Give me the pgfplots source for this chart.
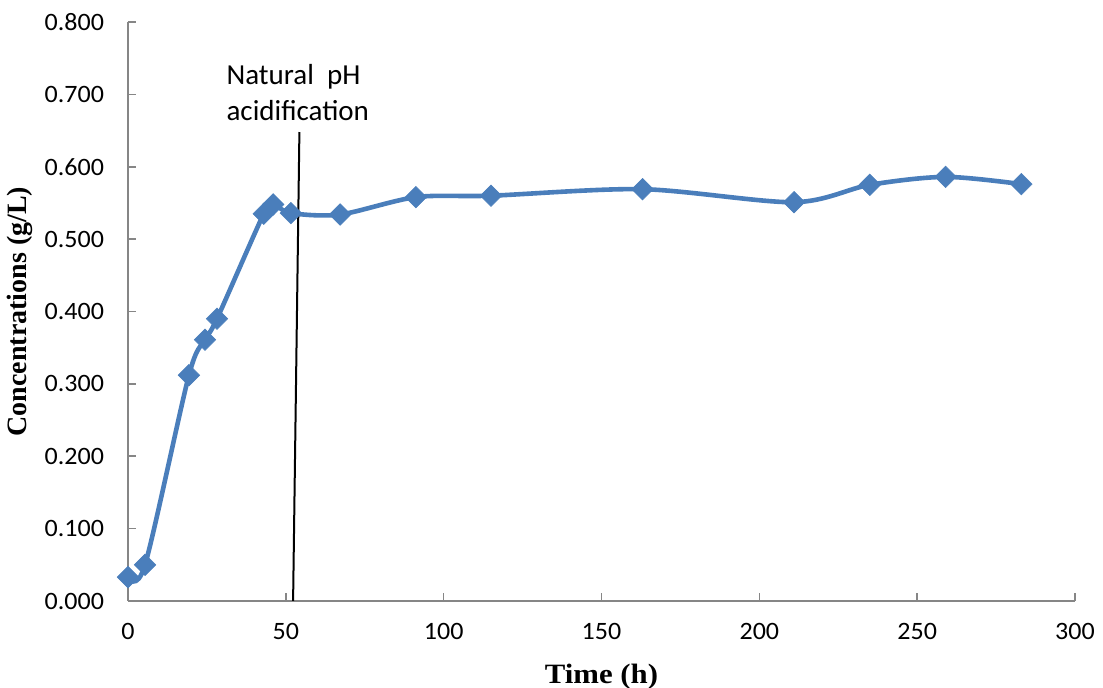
\documentclass[border=0pt]{standalone}
\usepackage{pgfplots}
\pgfplotsset{compat=1.18}
\usepackage{fontspec}
\setmainfont{Carlito}
\newfontfamily\tickfont{Carlito}[FakeStretch=1.04]
\newfontfamily\labfont{Liberation Serif}[FakeStretch=1.1]
\newfontfamily\ylabfont{Liberation Serif}
\definecolor{xlblue}{RGB}{74,126,187}
\definecolor{axgray}{RGB}{134,134,134}
\begin{document}
\begin{tikzpicture}
\begin{axis}[
  name=ax,
  width=473.5pt, height=289.5pt, scale only axis,
  xmin=0, xmax=300, ymin=0, ymax=0.8,
  axis x line*=bottom, axis y line*=left,
  axis line style={axgray, line width=0.8pt},
  xtick={0,50,100,150,200,250,300},
  ytick={0,0.1,0.2,0.3,0.4,0.5,0.6,0.7,0.8},
  tick style={axgray, line width=0.8pt},
  tick align=inside, major tick length=4pt,
  /pgf/number format/assume math mode=true,
  ticklabel style={font=\tickfont\fontsize{12.5}{14}\selectfont},
  yticklabel style={/pgf/number format/fixed, /pgf/number format/fixed zerofill, /pgf/number format/precision=3, xshift=-8.5pt},
  xticklabel style={yshift=-7.5pt},
  xlabel={\labfont\bfseries\fontsize{14}{16}\selectfont Time (h)},
  ylabel={\ylabfont\bfseries\fontsize{14}{16}\selectfont Concentrations (g/L)},
  xlabel style={at={(axis description cs:0.5,-0.131)}, anchor=center},
  ylabel style={at={(axis description cs:-0.114,0.5)}, anchor=center},
  clip=false,
]
\addplot[color=xlblue, line width=2.3pt, smooth, tension=0.5,
  mark=square*, mark size=3.8pt,
  mark options={fill=xlblue, draw=xlblue, rotate=45, line width=0.3pt}]
coordinates {
(0,0.033) (5.4,0.050) (19.3,0.312) (24.4,0.361) (28.2,0.390)
(43,0.535) (46,0.548) (51.6,0.536) (67.2,0.534) (91.2,0.558)
(115,0.560) (163,0.569) (211,0.551) (235,0.575) (259,0.586) (283,0.576)
};
\draw[black, line width=1pt] (axis cs:54.3,0.648) -- (axis cs:52.3,0);
\node[align=left, anchor=west, font=\fontsize{14.5}{18}\selectfont] at (axis cs:29.0,0.702) {Natural\ \ pH\\acidification};
\end{axis}
\pgfresetboundingbox
\path (ax.south west) ++(-64pt,-43.5pt) rectangle ++(551.5pt,344pt);
\end{tikzpicture}
\end{document}
